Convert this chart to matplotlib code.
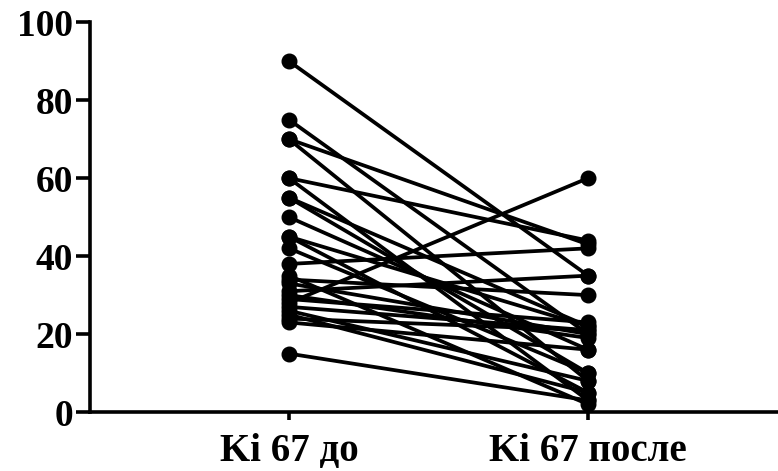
import matplotlib
matplotlib.use("Agg")
import matplotlib.pyplot as plt

categories = ["Ki 67 до", "Ki 67 после"]
ki67_before = [90, 75, 70, 70, 60, 60, 55, 55, 50, 45, 45, 42, 38, 35, 34, 33, 31, 30, 29, 28, 27, 26, 25, 24, 23, 15]
ki67_after = [35, 20, 43, 8, 44, 3, 22, 10, 16, 22, 5, 10, 42, 2, 30, 20, 35, 19, 23, 60, 21, 8, 5, 21, 16, 3]
y_ticks = [0, 20, 40, 60, 80, 100]

plt.rcParams["font.family"] = ["Liberation Serif", "DejaVu Serif"]
plt.rcParams["font.weight"] = "bold"

fig = plt.figure(figsize=(7.78, 4.71), dpi=100)
ax = fig.add_axes([0.1157, 0.125, 0.884, 0.828])

for b, a in zip(ki67_before, ki67_after):
    ax.plot([0, 1], [b, a], color="black", lw=2.7, marker="o", ms=10.5,
            solid_capstyle="round", zorder=2)

ax.set_xlim(-0.665, 1.634)
ax.set_ylim(0, 100)
ax.set_yticks(y_ticks)
ax.set_xticks([0, 1])
ax.set_xticklabels(categories)

for side in ("top", "right"):
    ax.spines[side].set_visible(False)
for side in ("left", "bottom"):
    ax.spines[side].set_linewidth(2.6)

ax.tick_params(axis="y", length=10, width=2.6, labelsize=27, pad=2)
ax.tick_params(axis="x", length=6, width=2.6, labelsize=28, pad=9)
for lab in ax.get_xticklabels() + ax.get_yticklabels():
    lab.set_fontweight("bold")

fig.savefig("out.png", dpi=100)
